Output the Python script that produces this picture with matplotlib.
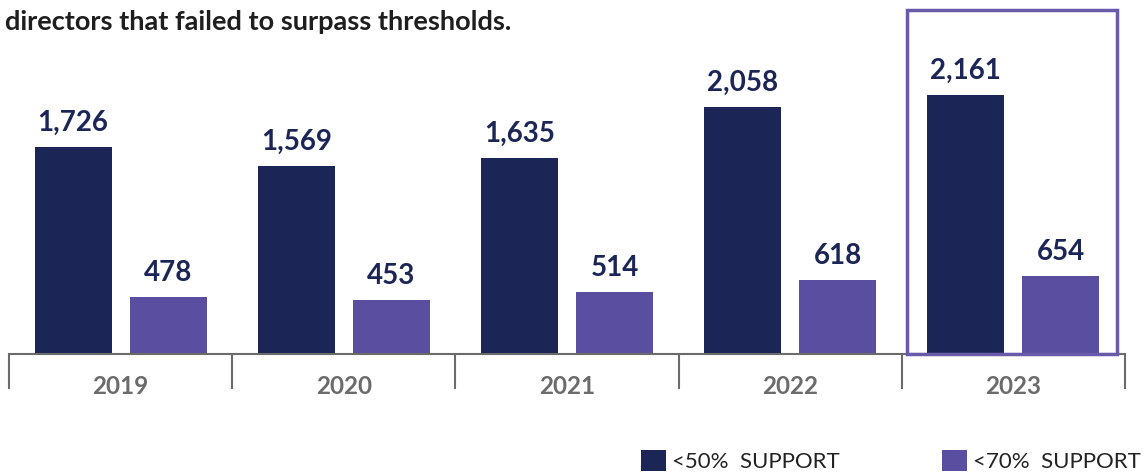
import matplotlib.pyplot as plt
from matplotlib.patches import Rectangle

years = ["2019", "2020", "2021", "2022", "2023"]
below_50 = [1726, 1569, 1635, 2058, 2161]
below_70 = [478, 453, 514, 618, 654]
series_labels = ["<50%  SUPPORT", "<70%  SUPPORT"]
title = "directors that failed to surpass thresholds."

DARK = "#1b2556"
PURPLE = "#5a4ea0"
GREY = "#6b6b6b"

plt.rcParams["font.family"] = ["Lato", "DejaVu Sans"]

fig = plt.figure(figsize=(11.43, 4.72), dpi=100)
ax = fig.add_axes([9 / 1143, 118 / 472, 1116 / 1143, 344 / 472])

x = list(range(len(years)))
off, w = 0.213, 0.345
b1 = ax.bar([i - off for i in x], below_50, width=w, color=DARK, label=series_labels[0])
b2 = ax.bar([i + off for i in x], below_70, width=w, color=PURPLE, label=series_labels[1])

for bars, vals in ((b1, below_50), (b2, below_70)):
    for rect, v in zip(bars, vals):
        ax.annotate(f"{v:,}", (rect.get_x() + rect.get_width() / 2, v),
                    xytext=(0, 11.5), textcoords="offset points",
                    ha="center", va="baseline", fontsize=20,
                    fontweight="bold", color=DARK)

ax.set_xlim(-0.5, len(years) - 0.5)
ax.set_ylim(0, 2870)

# highlight the latest year
hl = Rectangle((3.523, 0), 0.941, 2870, fill=False, edgecolor="#6a5aaa",
               linewidth=2.5, clip_on=False, zorder=3)
ax.add_patch(hl)

for s in ("top", "right", "left"):
    ax.spines[s].set_visible(False)
ax.spines["bottom"].set_color(GREY)
ax.spines["bottom"].set_linewidth(1.5)
ax.set_yticks([])
ax.set_xticks(x)
ax.set_xticklabels(years, fontsize=17.5, fontweight="bold", color=GREY)
ax.tick_params(axis="x", which="major", length=0, pad=15)
ax.set_xticks([i - 0.5 for i in range(len(years) + 1)], minor=True)
ax.tick_params(axis="x", which="minor", length=25, width=1.5, color=GREY)

fig.text(5 / 1143, 1 - 22 / 472, title, fontsize=19.5, fontweight="bold",
         color="#1e1e1e", va="center", ha="left")

fig.legend(handles=[b1, b2], loc="center left",
           bbox_to_anchor=(641 / 1143, 11 / 472), ncol=2, frameon=False,
           fontsize=16, handlelength=1.12, handleheight=1.12,
           handletextpad=0.28, columnspacing=4.6, labelcolor="#222222",
           borderaxespad=0, borderpad=0)

fig.savefig("out.png", dpi=100)
